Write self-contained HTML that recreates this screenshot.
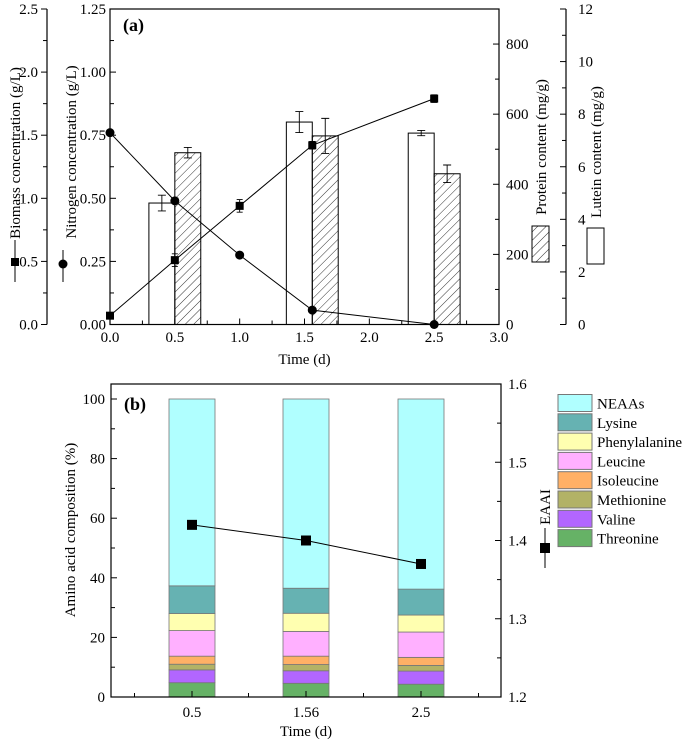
<!DOCTYPE html>
<html><head><meta charset="utf-8">
<style>
html,body{margin:0;padding:0;background:#fff;}
svg{display:block;font-family:"Liberation Serif",serif;}
</style></head>
<body>
<svg id="fig" width="685" height="740" viewBox="0 0 685 740" xmlns="http://www.w3.org/2000/svg">
<defs>
<pattern id="hatch" patternUnits="userSpaceOnUse" width="6" height="6" patternTransform="rotate(45)">
<line x1="0" y1="0" x2="0" y2="6" stroke="#000" stroke-width="0.8"/>
</pattern>
</defs>
</svg>
<script>
// ---- Panel (a) data ----
const timesA = [0, 0.5, 1.0, 1.56, 2.5];
const biomass = [0.07, 0.51, 0.94, 1.42, 1.79];
const biomassErr = [0.02, 0.05, 0.05, 0.03, 0.03];
const nitrogen = [0.76, 0.49, 0.275, 0.057, 0.0];
const nitrogenErr = [0.01, 0.015, 0.01, 0.01, 0.01];
const luteinTimes = [0.5, 1.56, 2.5];
const lutein = [4.62, 7.7, 7.28];
const luteinErr = [0.3, 0.4, 0.1];
const protein = [490, 538, 430];
const proteinErr = [15, 50, 25];
const xTicksA = ["0.0","0.5","1.0","1.5","2.0","2.5","3.0"];
const biomassTicks = ["0.0","0.5","1.0","1.5","2.0","2.5"];
const nitrogenTicks = ["0.00","0.25","0.50","0.75","1.00","1.25"];
const proteinTicks = ["0","200","400","600","800"];
const luteinTicks = ["0","2","4","6","8","10","12"];
// ---- Panel (b) data ----
const categoriesB = ["0.5","1.56","2.5"];
const aminoNames = ["Threonine","Valine","Methionine","Isoleucine","Leucine","Phenylalanine","Lysine","NEAAs"];
const aminoColors = ["#66b266","#b266ff","#b2b266","#ffb066","#ffb0ff","#ffffb0","#66b2b2","#b0ffff"];
const threonine = [4.8, 4.6, 4.3];
const valine = [4.3, 4.2, 4.4];
const methionine = [1.9, 2.1, 1.9];
const isoleucine = [2.7, 2.8, 2.7];
const leucine = [8.6, 8.3, 8.5];
const phenylalanine = [5.7, 6.1, 5.7];
const lysine = [9.3, 8.4, 8.7];
const neaas = [62.7, 63.5, 63.8];
const eaai = [1.42, 1.40, 1.37];
const yTicksB = ["0","20","40","60","80","100"];
const eaaiTicks = ["1.2","1.3","1.4","1.5","1.6"];

const svg = document.getElementById('fig');
const NS = "http://www.w3.org/2000/svg";
function mk(tag, attrs, parent){
  const e = document.createElementNS(NS, tag);
  for (const k in attrs) e.setAttribute(k, attrs[k]);
  (parent||svg).appendChild(e);
  return e;
}
function txt(s, x, y, size, anchor, parent, extra){
  const t = mk('text', Object.assign({x:x, y:y, 'font-size':size, 'text-anchor':anchor||'middle', fill:'#000'}, extra||{}), parent);
  t.textContent = s;
  return t;
}

// ===== Panel (a) =====
const A = {x0:110, x1:499, y0:324.5, y1:9};
const xa = v => A.x0 + v/3*(A.x1-A.x0);
const yBio = v => A.y0 - v/2.5*(A.y0-A.y1);
const yN = v => A.y0 - v/1.25*(A.y0-A.y1);
const yP = v => A.y0 - v/900*(A.y0-A.y1);
const yL = v => A.y0 - v/12*(A.y0-A.y1);
const gA = mk('g', {});



const barW = xa(0.2)-xa(0);
luteinTimes.forEach((t,i)=>{
  const r = mk('rect', {x:xa(t)-barW, y:yL(lutein[i]), width:barW, height:A.y0-yL(lutein[i]), fill:'#fff', stroke:'#000', 'stroke-width':1}, gA);
  
  
  const cx = xa(t)-barW/2;
  mk('path', {d:`M${cx} ${yL(lutein[i]-luteinErr[i])}V${yL(lutein[i]+luteinErr[i])}M${cx-4} ${yL(lutein[i]-luteinErr[i])}h8M${cx-4} ${yL(lutein[i]+luteinErr[i])}h8`, stroke:'#000', 'stroke-width':0.9, fill:'none'}, gA);
  const p = mk('rect', {x:xa(t), y:yP(protein[i]), width:barW, height:A.y0-yP(protein[i]), fill:'url(#hatch)', stroke:'#000', 'stroke-width':1}, gA);
  
  
  const px = xa(t)+barW/2;
  mk('path', {d:`M${px} ${yP(protein[i]-proteinErr[i])}V${yP(protein[i]+proteinErr[i])}M${px-4} ${yP(protein[i]-proteinErr[i])}h8M${px-4} ${yP(protein[i]+proteinErr[i])}h8`, stroke:'#000', 'stroke-width':0.9, fill:'none'}, gA);
});
mk('polyline', {points: timesA.map((t,i)=>`${xa(t)},${yBio(biomass[i])}`).join(' '), fill:'none', stroke:'#000', 'stroke-width':1}, gA);
mk('polyline', {points: timesA.map((t,i)=>`${xa(t)},${yN(nitrogen[i])}`).join(' '), fill:'none', stroke:'#000', 'stroke-width':1}, gA);
timesA.forEach((t,i)=>{
  const x = xa(t), y = yBio(biomass[i]), e1 = yBio(biomass[i]-biomassErr[i]), e2 = yBio(biomass[i]+biomassErr[i]);
  mk('path', {d:`M${x} ${e1}V${e2}M${x-3} ${e1}h6M${x-3} ${e2}h6`, stroke:'#000', 'stroke-width':0.9}, gA);
  const s = mk('rect', {x:x-4, y:y-4, width:8, height:8, fill:'#000'}, gA);
  
  
  const c = mk('circle', {cx:x, cy:yN(nitrogen[i]), r:4.5, fill:'#000'}, gA);
  
  
});
mk('rect', {x:A.x0, y:A.y1, width:A.x1-A.x0, height:A.y0-A.y1, fill:'none', stroke:'#000', 'stroke-width':1.2}, gA);
for (let v=0; v<=3.0001; v+=0.25){
  const major = Math.abs(v*2-Math.round(v*2))<1e-6;
  mk('line', {x1:xa(v), x2:xa(v), y1:A.y0, y2:A.y0-(major?6:4), stroke:'#000'}, gA);
}
xTicksA.forEach((s,i)=>txt(s, xa(i*0.5), 342, 15, 'middle', gA));
const xt = txt('Time (d)', (A.x0+A.x1)/2, 364, 15, 'middle', gA);


for (let v=0; v<=1.25001; v+=0.125){
  mk('line', {x1:A.x0, x2:A.x0+((Math.round(v*8)%2===0)?6:4), y1:yN(v), y2:yN(v), stroke:'#000'}, gA);
}
nitrogenTicks.forEach((s,i)=>txt(s, 106, yN(i*0.25)+5, 15, 'end', gA));
mk('line', {x1:47, x2:47, y1:A.y0, y2:A.y1, stroke:'#000', 'stroke-width':1.2}, gA);
for (let v=0; v<=2.5001; v+=0.25){
  mk('line', {x1:47, x2:47-((Math.round(v*4)%2===0)?6:4), y1:yBio(v), y2:yBio(v), stroke:'#000'}, gA);
}
biomassTicks.forEach((s,i)=>txt(s, 38, yBio(i*0.5)+5, 15, 'end', gA));
for (let v=0; v<=900; v+=100){
  mk('line', {x1:A.x1, x2:A.x1-((v%200===0)?6:4), y1:yP(v), y2:yP(v), stroke:'#000'}, gA);
}
proteinTicks.forEach((s,i)=>txt(s, 506, yP(i*200)+5, 15, 'start', gA));
mk('line', {x1:566, x2:566, y1:A.y0, y2:A.y1, stroke:'#000', 'stroke-width':1.2}, gA);
for (let v=0; v<=12; v+=1){
  mk('line', {x1:566, x2:566-((v%2===0)?6:4), y1:yL(v), y2:yL(v), stroke:'#000'}, gA);
}
luteinTicks.forEach((s,i)=>txt(s, 578, yL(i*2)+5, 15, 'start', gA));
const bt = txt('Biomass concentration (g/L)', 0, 0, 15, 'middle', gA, {transform:'translate(20,153) rotate(-90)'});


mk('line', {x1:15, x2:15, y1:240, y2:282, stroke:'#000'}, gA);
mk('rect', {x:11, y:258, width:8, height:8, fill:'#000'}, gA);
const nt = txt('Nitrogen concentration (g/L)', 0, 0, 15, 'middle', gA, {transform:'translate(76,152) rotate(-90)'});


mk('line', {x1:63, x2:63, y1:250, y2:282, stroke:'#000'}, gA);
mk('circle', {cx:63, cy:264, r:4.5, fill:'#000'}, gA);
const pt = txt('Protein content (mg/g)', 0, 0, 15, 'middle', gA, {transform:'translate(546,147) rotate(-90)'});


mk('rect', {x:532, y:226, width:17, height:36, fill:'url(#hatch)', stroke:'#000'}, gA);
const lt = txt('Lutein content (mg/g)', 0, 0, 15, 'middle', gA, {transform:'translate(601,152) rotate(-90)'});


mk('rect', {x:587, y:228, width:17, height:36, fill:'#fff', stroke:'#000'}, gA);
const la = txt('(a)', 123, 31, 18, 'start', gA, {'font-weight':'bold'});



// ===== Panel (b) =====
const B = {x0:111, x1:501, y0:697, y1:384};
const catX = [192, 306, 421];
const yB = v => B.y0 - v/100*(B.y0-399);
const yE = v => B.y0 - (v-1.2)/0.4*(B.y0-B.y1);
const gB = mk('g', {});


const series = [threonine, valine, methionine, isoleucine, leucine, phenylalanine, lysine, neaas];
categoriesB.forEach((c,i)=>{
  let cum = 0;
  series.forEach((s,k)=>{
    const v = (k===series.length-1) ? 100-cum : s[i];
    const r = mk('rect', {x:catX[i]-23, y:yB(cum+v), width:46, height:yB(cum)-yB(cum+v), fill:aminoColors[k], stroke:'#777', 'stroke-width':0.8}, gB);
    
    
    cum += v;
  });
});
mk('polyline', {points: eaai.map((v,i)=>`${catX[i]},${yE(v)}`).join(' '), fill:'none', stroke:'#000', 'stroke-width':1}, gB);
eaai.forEach((v,i)=>{
  const s = mk('rect', {x:catX[i]-5, y:yE(v)-5, width:10, height:10, fill:'#000'}, gB);
  
  
});
mk('rect', {x:B.x0, y:B.y1, width:B.x1-B.x0, height:B.y0-B.y1, fill:'none', stroke:'#000', 'stroke-width':1.2}, gB);
catX.forEach((x,i)=>{
  mk('line', {x1:x, x2:x, y1:B.y0, y2:B.y0-6, stroke:'#000'}, gB);
  mk('line', {x1:x-57.5, x2:x-57.5, y1:B.y0, y2:B.y0-4, stroke:'#000'}, gB);
  txt(categoriesB[i], x, 717, 15, 'middle', gB);
});
mk('line', {x1:catX[2]+57.5, x2:catX[2]+57.5, y1:B.y0, y2:B.y0-4, stroke:'#000'}, gB);
const xb = txt('Time (d)', 306, 736, 15, 'middle', gB);


for (let v=0; v<=100; v+=10){
  mk('line', {x1:B.x0, x2:B.x0+((v%20===0)?6:4), y1:yB(v), y2:yB(v), stroke:'#000'}, gB);
}
yTicksB.forEach((s,i)=>txt(s, 105, yB(i*20)+5, 15, 'end', gB));
for (let k=0; k<=8; k++){
  const v = 1.2+k*0.05;
  mk('line', {x1:B.x1, x2:B.x1-((k%2===0)?6:4), y1:yE(v), y2:yE(v), stroke:'#000'}, gB);
}
eaaiTicks.forEach((s,i)=>txt(s, 508, yE(1.2+i*0.1)+5, 15, 'start', gB));
const yb = txt('Amino acid composition (%)', 0, 0, 15, 'middle', gB, {transform:'translate(75,530) rotate(-90)'});


const et = txt('EAAI', 0, 0, 15, 'middle', gB, {transform:'translate(550,507) rotate(-90)'});


mk('line', {x1:545, x2:545, y1:528, y2:568, stroke:'#000'}, gB);
mk('rect', {x:540, y:543, width:10, height:10, fill:'#000'}, gB);
const lb = txt('(b)', 124, 410, 18, 'start', gB, {'font-weight':'bold'});


for (let k=aminoNames.length-1, j=0; k>=0; k--, j++){
  const y = 394.5 + j*19.3;
  const r = mk('rect', {x:558, y:y, width:34, height:17, fill:aminoColors[k], stroke:'#777'}, gB);
  
  
  const t = txt(aminoNames[k], 597, y+14, 15, 'start', gB);
  
  
}
</script>
</body></html>
